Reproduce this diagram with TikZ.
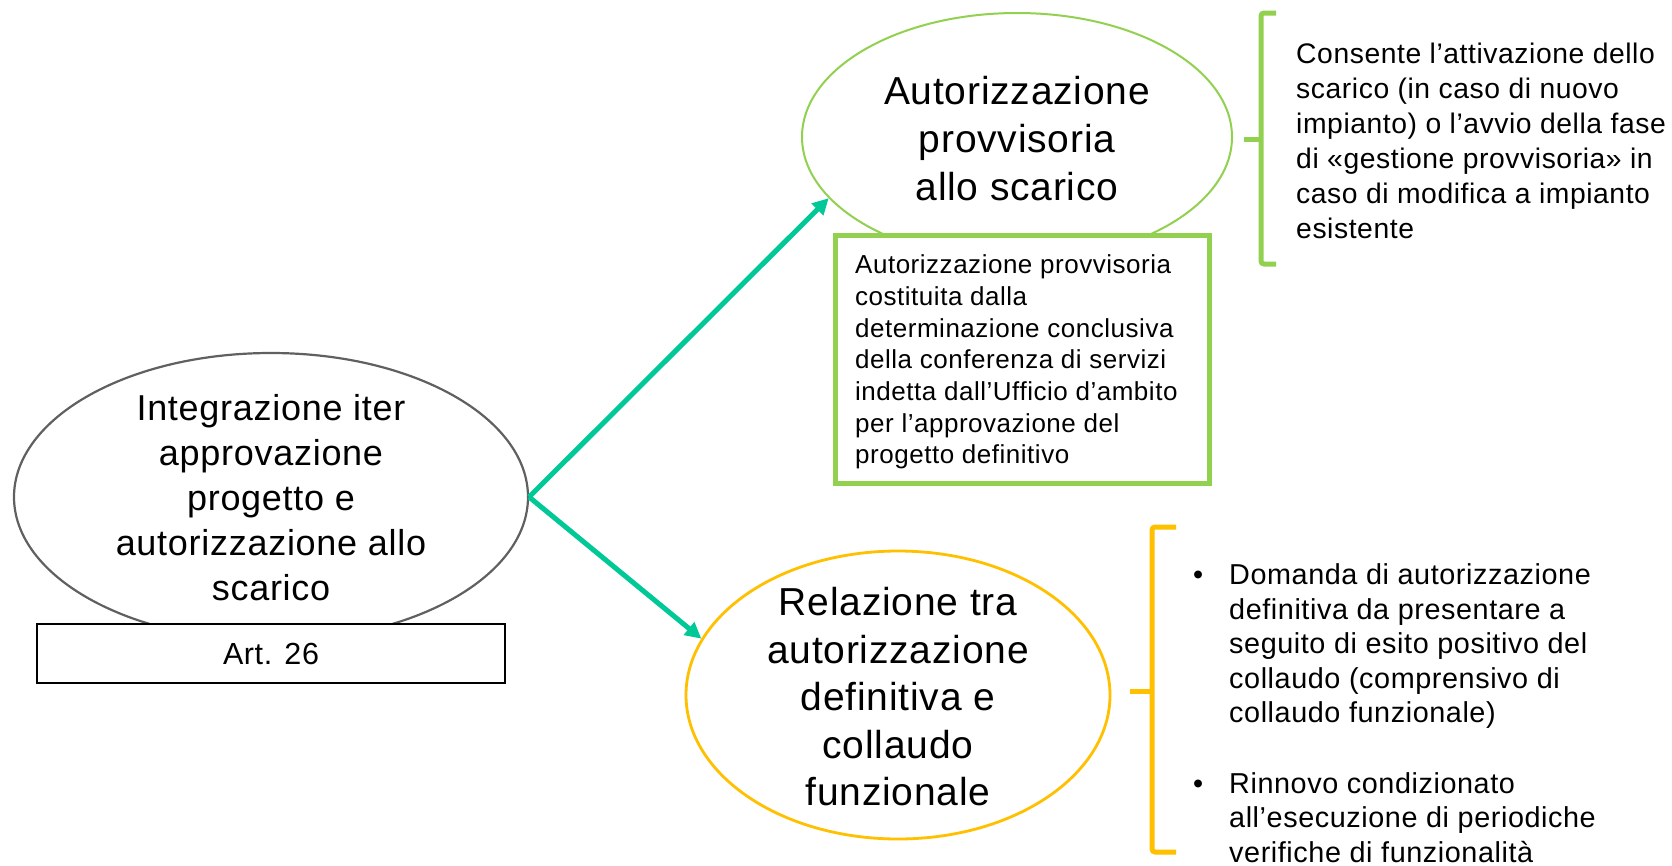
\documentclass[tikz,border=0pt]{standalone}
\usepackage{fontspec}
\setmainfont{Liberation Sans}[LetterSpace=2]
\usetikzlibrary{shapes.geometric,arrows.meta}
\definecolor{tealarrow}{RGB}{0,200,150}
\definecolor{lgreen}{RGB}{146,208,80}
\definecolor{amber}{RGB}{255,192,0}
\definecolor{ovalgray}{RGB}{96,96,96}
\begin{document}
\begin{tikzpicture}[x=1pt,y=-1pt,
  oval/.style={ellipse, draw, inner sep=0pt, fill=white},
  txt/.style={inner sep=0pt, align=center},
  ltxt/.style={inner sep=0pt, align=left, anchor=west},
  arr/.style={draw=tealarrow, line width=5pt, -{Triangle[length=16pt,width=16pt]}},
  brace/.style={line width=5pt, rounded corners=3pt}]
\fill[white] (0,0) rectangle (1672,865);
\useasboundingbox (0,0) rectangle (1672,865);

% left ellipse
\node[oval, draw=ovalgray, line width=2.2pt, minimum width=514pt, minimum height=288pt] (L) at (271,497) {};
\node[txt, font=\fontsize{36}{45}\selectfont] (Ltext) at (271,498) {Integrazione iter\\approvazione\\progetto e\\autorizzazione allo\\scarico};
\node[draw=black, line width=2pt, fill=white, minimum width=468pt, minimum height=59pt, inner sep=0pt, font=\fontsize{30.5}{36}\selectfont] (art) at (271,653.5) {Art. 26};

% top ellipse
\node[oval, draw=lgreen, line width=2pt, minimum width=430pt, minimum height=248pt] (G) at (1017,137) {};
\node[txt, font=\fontsize{39}{48}\selectfont] (Gtext) at (1017,139) {Autorizzazione\\provvisoria\\allo scarico};
\node[draw=lgreen, line width=5pt, fill=white, minimum width=374pt, minimum height=248pt, inner sep=0pt] (gbox) at (1022,359) {};
\node[ltxt, font=\fontsize{26}{31.7}\selectfont] (gboxtext) at (855,362) {Autorizzazione provvisoria\\costituita dalla\\determinazione conclusiva\\della conferenza di servizi\\indetta dall’Ufficio d’ambito\\per l’approvazione del\\progetto definitivo};

% bottom ellipse
\node[oval, draw=amber, line width=2.8pt, minimum width=424pt, minimum height=288pt] (Y) at (898,695) {};
\node[txt, font=\fontsize{39}{47.5}\selectfont] (Ytext) at (898,697) {Relazione tra\\autorizzazione\\definitiva e\\collaudo\\funzionale};

% arrows
\draw[arr] (L.east) -- (G.198);
\draw[arr] (L.east) -- (Y.164);

% top bracket and text
\draw[brace, draw=lgreen] (1276,13) -- (1261,13) -- (1261,264) -- (1276,264);
\draw[brace, draw=lgreen] (1261,139) -- (1244,139);
\node[ltxt, font=\fontsize{28.3}{35}\selectfont] (Rtop) at (1296,141) {Consente l’attivazione dello\\scarico (in caso di nuovo\\impianto) o l’avvio della fase\\di «gestione provvisoria» in\\caso di modifica a impianto\\esistente};

% bottom bracket and bullets
\draw[brace, draw=amber] (1176,527) -- (1152,527) -- (1152,852) -- (1176,852);
\draw[brace, draw=amber] (1152,691) -- (1130,691);
\node[ltxt, font=\fontsize{28.8}{34.5}\selectfont] (item1) at (1193,647) {\begin{tabular}{@{}p{36pt}@{}l@{}}•&Domanda di autorizzazione\\&definitiva da presentare a\\&seguito di esito positivo del\\&collaudo (comprensivo di\\&collaudo funzionale)\end{tabular}};
\node[ltxt, font=\fontsize{28.8}{34.5}\selectfont] (item2) at (1193,821) {\begin{tabular}{@{}p{36pt}@{}l@{}}•&Rinnovo condizionato\\&all’esecuzione di periodiche\\&verifiche di funzionalità\end{tabular}};
\end{tikzpicture}
\end{document}
